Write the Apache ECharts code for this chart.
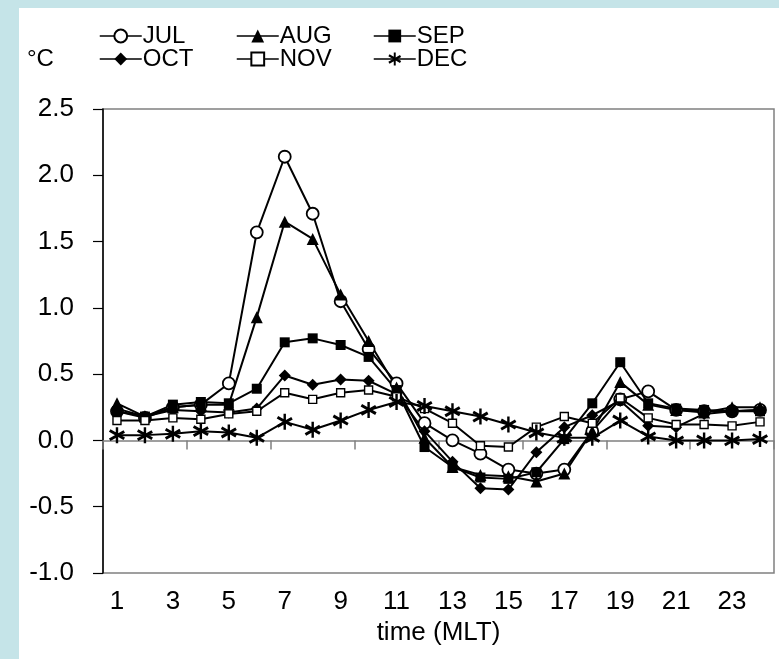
<!DOCTYPE html>
<html>
<head>
<meta charset="utf-8">
<script src="https://cdn.jsdelivr.net/npm/echarts@6/dist/echarts.min.js"></script>
<style>
html,body{margin:0;padding:0;background:#c5e4e8;}
#chart{width:779px;height:659px;}
</style>
</head>
<body>
<div id="chart"></div>
<script>
var hours = ['1','2','3','4','5','6','7','8','9','10','11','12','13','14','15','16','17','18','19','20','21','22','23','24'];
var JUL = [0.22, 0.17, 0.25, 0.27, 0.43, 1.57, 2.14, 1.71, 1.05, 0.69, 0.43, 0.13, 0.00, -0.10, -0.22, -0.25, -0.22, 0.07, 0.31, 0.37, 0.23, 0.22, 0.22, 0.23];
var AUG = [0.28, 0.18, 0.25, 0.27, 0.27, 0.93, 1.65, 1.52, 1.10, 0.75, 0.40, 0.02, -0.20, -0.26, -0.27, -0.31, -0.25, 0.07, 0.44, 0.27, 0.23, 0.21, 0.25, 0.25];
var SEP = [0.22, 0.18, 0.27, 0.29, 0.28, 0.39, 0.74, 0.77, 0.72, 0.63, 0.38, -0.05, -0.20, -0.28, -0.29, -0.24, 0.01, 0.28, 0.59, 0.28, 0.24, 0.23, 0.22, 0.22];
var OCT = [0.24, 0.18, 0.23, 0.22, 0.21, 0.24, 0.49, 0.42, 0.46, 0.45, 0.35, 0.07, -0.16, -0.36, -0.37, -0.09, 0.10, 0.19, 0.30, 0.11, 0.10, 0.20, 0.22, 0.23];
var NOV = [0.15, 0.15, 0.17, 0.16, 0.20, 0.22, 0.36, 0.31, 0.36, 0.38, 0.33, 0.24, 0.13, -0.04, -0.05, 0.10, 0.18, 0.13, 0.32, 0.17, 0.12, 0.12, 0.11, 0.14];
var DEC = [0.04, 0.04, 0.05, 0.07, 0.06, 0.02, 0.14, 0.08, 0.15, 0.23, 0.29, 0.26, 0.22, 0.18, 0.12, 0.06, 0.02, 0.02, 0.15, 0.03, 0.00, 0.00, 0.00, 0.01];
var seriesNames = ['JUL','AUG','SEP','OCT','NOV','DEC'];
var yTicks = {min: -1.0, max: 2.5, step: 0.5};

var FONT = 'Liberation Sans, Arial, sans-serif';
var FS = 26;
var LFS = 24;
var asterisk = 'path://M8.5,0L11.5,0L11.5,20L8.5,20Z M1.9,2.6L19.9,13L18.1,16.2L0.1,5.8Z M0.1,14.2L18.1,3.8L19.9,7L1.9,17.4Z';

var styles = {
  JUL: {symbol: 'circle', symbolSize: 12, itemStyle: {color: '#ffffff', borderColor: '#000', borderWidth: 1.8}},
  AUG: {symbol: 'triangle', symbolSize: 12, itemStyle: {color: '#000'}},
  SEP: {symbol: 'rect', symbolSize: 10, itemStyle: {color: '#000'}},
  OCT: {symbol: 'diamond', symbolSize: 12, itemStyle: {color: '#000'}},
  NOV: {symbol: 'rect', symbolSize: 8, itemStyle: {color: '#ffffff', borderColor: '#000', borderWidth: 1.4}},
  DEC: {symbol: asterisk, symbolSize: 16, itemStyle: {color: '#000'}}
};
var dataMap = {JUL: JUL, AUG: AUG, SEP: SEP, OCT: OCT, NOV: NOV, DEC: DEC};

var series = seriesNames.map(function (n) {
  var s = styles[n];
  return {
    name: n, type: 'line', xAxisIndex: 0, yAxisIndex: 0,
    data: dataMap[n],
    symbol: s.symbol, symbolSize: s.symbolSize,
    showAllSymbol: true,
    itemStyle: s.itemStyle,
    lineStyle: {color: '#000', width: 2},
    emphasis: {disabled: true},
    animation: false
  };
});

var legendPos = [
  {n: 'JUL', left: 99, top: 24},
  {n: 'AUG', left: 236, top: 24},
  {n: 'SEP', left: 373, top: 24},
  {n: 'OCT', left: 99, top: 47},
  {n: 'NOV', left: 236, top: 47},
  {n: 'DEC', left: 373, top: 47}
];
var legends = legendPos.map(function (p) {
  return {
    data: [p.n], left: p.left, top: p.top, padding: 0,
    itemWidth: 42, itemHeight: 16, itemGap: 0,
    lineStyle: {width: 1.5},
    textStyle: {fontSize: LFS, color: '#000', fontFamily: FONT, padding: [0, 0, 0, -4]},
    selectedMode: false
  };
});

var chart = echarts.init(document.getElementById('chart'), null, {renderer: 'canvas'});
chart.setOption({
  backgroundColor: '#c5e4e8',
  animation: false,
  graphic: [
    {type: 'rect', left: 19, top: 8, shape: {width: 760, height: 651}, style: {fill: '#ffffff'}, z: -10, silent: true},
    {type: 'text', left: 27, top: 47, style: {text: '°C', fontSize: LFS, fontFamily: FONT, fill: '#000'}, z: 10}
  ],
  legend: legends,
  grid: {left: 103, right: 5, top: 109, bottom: 86, show: true, borderColor: '#808080', borderWidth: 1.5, backgroundColor: 'transparent'},
  xAxis: [
    {
      type: 'category', data: hours, position: 'bottom', boundaryGap: true,
      axisLine: {show: false, onZero: false},
      axisTick: {show: false},
      axisLabel: {interval: 1, fontSize: FS, color: '#000', fontFamily: FONT, margin: 16},
      name: 'time (MLT)', nameLocation: 'middle', nameGap: 42,
      nameTextStyle: {fontSize: FS, color: '#000', fontFamily: FONT},
      splitLine: {show: false}
    },
    {
      type: 'category', data: hours, position: 'bottom', boundaryGap: true,
      axisLine: {show: true, onZero: true, lineStyle: {color: '#808080', width: 1.5}},
      axisTick: {show: true, interval: 2, length: 9, inside: false, lineStyle: {color: '#808080', width: 1.5}},
      axisLabel: {show: false},
      splitLine: {show: false}
    }
  ],
  yAxis: {
    type: 'value', min: yTicks.min, max: yTicks.max, interval: yTicks.step,
    axisLine: {show: true, lineStyle: {color: '#000', width: 1.5}},
    axisTick: {show: true, length: 10, inside: false, lineStyle: {color: '#000', width: 1.2}},
    axisLabel: {fontSize: FS, color: '#000', fontFamily: FONT, margin: 29, formatter: function (v) { return v.toFixed(1); }},
    splitLine: {show: false}
  },
  series: series
});
</script>
</body>
</html>
